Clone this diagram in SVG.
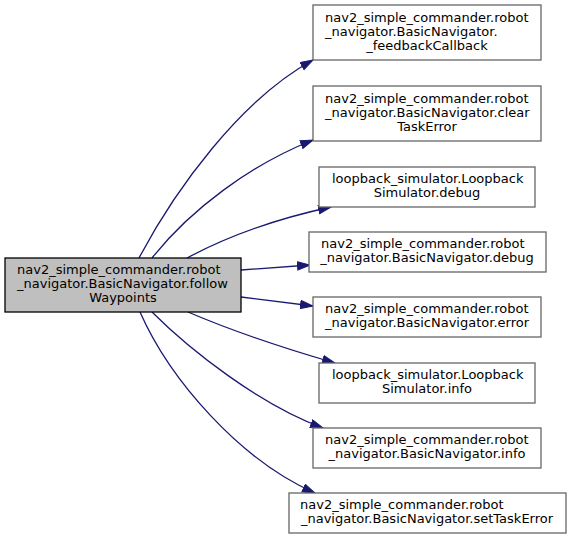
<svg xmlns="http://www.w3.org/2000/svg" width="571" height="539" viewBox="0 0 571 539">
<style>
  .lbl { font-family: "DejaVu Sans", sans-serif; font-size: 13px; fill: #000; }
  .mid { text-anchor: middle; }
  .node { fill: #ffffff; stroke: #666666; stroke-width: 1.3; }
  .main { fill: #bfbfbf; stroke: #000000; stroke-width: 1.3; }
  .edge { fill: none; stroke: #191970; stroke-width: 1.3; }
</style>
<defs>
  <marker id="arr" markerUnits="userSpaceOnUse" markerWidth="15" markerHeight="11" refX="13" refY="4.6" orient="auto">
    <path d="M0.5,0.5 L13,4.6 L0.5,8.7 z" fill="#191970" stroke="#191970" stroke-width="1"/>
  </marker>
</defs>
<rect width="571" height="539" fill="#ffffff"/>
<g id="edges">
  <path class="edge" marker-end="url(#arr)" d="M139,258 C175,190 240,100 313,60"/>
  <path class="edge" marker-end="url(#arr)" d="M152,258 C190,210 250,165 313,140"/>
  <path class="edge" marker-end="url(#arr)" d="M187,258 C230,235 280,218 331,207"/>
  <path class="edge" marker-end="url(#arr)" d="M241,270 L310,265"/>
  <path class="edge" marker-end="url(#arr)" d="M241,297 L313,306"/>
  <path class="edge" marker-end="url(#arr)" d="M188,312 C230,330 290,350 335,363"/>
  <path class="edge" marker-end="url(#arr)" d="M152,312 C190,350 260,405 323,428"/>
  <path class="edge" marker-end="url(#arr)" d="M140,312 C170,380 240,460 315,493"/>
</g>
<g id="node_main">
  <rect class="main" x="5" y="258" width="236" height="54"/>
  <text class="lbl" x="17" y="274">nav2_simple_commander.robot</text>
  <text class="lbl" x="17" y="288">_navigator.BasicNavigator.follow</text>
  <text class="lbl mid" x="123" y="302">Waypoints</text>
</g>
<g id="node_feedbackCallback">
  <rect class="node" x="313" y="5" width="228" height="55"/>
  <text class="lbl" x="325" y="22">nav2_simple_commander.robot</text>
  <text class="lbl" x="325" y="36">_navigator.BasicNavigator.</text>
  <text class="lbl mid" x="427" y="50">_feedbackCallback</text>
</g>
<g id="node_clearTaskError">
  <rect class="node" x="313" y="86" width="228" height="55"/>
  <text class="lbl" x="325" y="103">nav2_simple_commander.robot</text>
  <text class="lbl" x="325" y="117">_navigator.BasicNavigator.clear</text>
  <text class="lbl mid" x="427" y="131">TaskError</text>
</g>
<g id="node_loopback_debug">
  <rect class="node" x="319" y="167" width="216" height="40"/>
  <text class="lbl" x="332" y="183">loopback_simulator.Loopback</text>
  <text class="lbl mid" x="427" y="197">Simulator.debug</text>
</g>
<g id="node_debug">
  <rect class="node" x="309" y="232" width="237" height="40"/>
  <text class="lbl" x="321" y="248">nav2_simple_commander.robot</text>
  <text class="lbl mid" x="427" y="262">_navigator.BasicNavigator.debug</text>
</g>
<g id="node_error">
  <rect class="node" x="313" y="297" width="228" height="40"/>
  <text class="lbl" x="325" y="313">nav2_simple_commander.robot</text>
  <text class="lbl mid" x="427" y="327">_navigator.BasicNavigator.error</text>
</g>
<g id="node_loopback_info">
  <rect class="node" x="319" y="363" width="216" height="40"/>
  <text class="lbl" x="332" y="379">loopback_simulator.Loopback</text>
  <text class="lbl mid" x="427" y="393">Simulator.info</text>
</g>
<g id="node_info">
  <rect class="node" x="313" y="428" width="228" height="40"/>
  <text class="lbl" x="325" y="444">nav2_simple_commander.robot</text>
  <text class="lbl mid" x="427" y="458">_navigator.BasicNavigator.info</text>
</g>
<g id="node_setTaskError">
  <rect class="node" x="289" y="493" width="277" height="40"/>
  <text class="lbl" x="300" y="509">nav2_simple_commander.robot</text>
  <text class="lbl mid" x="427" y="523">_navigator.BasicNavigator.setTaskError</text>
</g>
</svg>
